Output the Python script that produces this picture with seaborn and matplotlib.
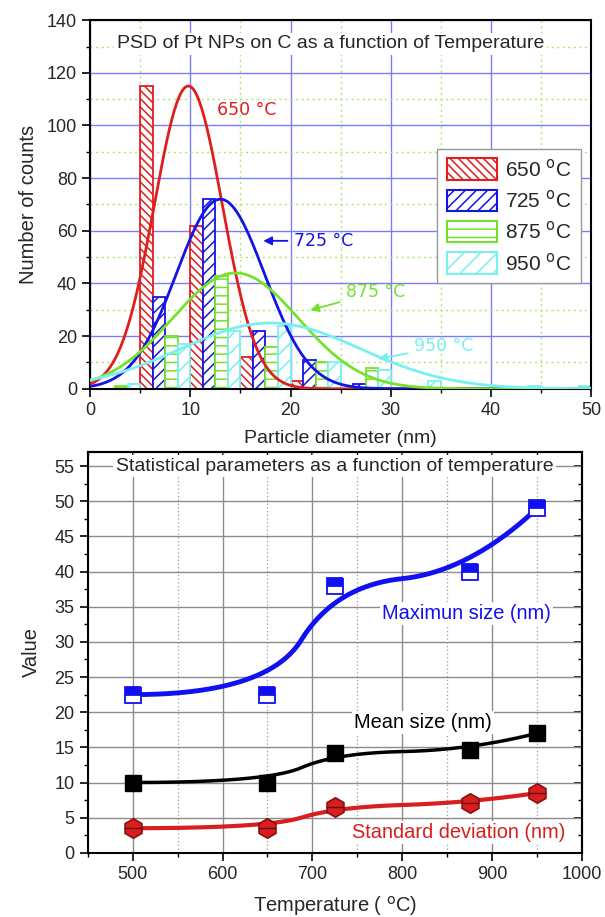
import numpy as np
import pandas as pd
import matplotlib
matplotlib.use('Agg')
import matplotlib.pyplot as plt
import seaborn as sns
from matplotlib.patches import Patch
from matplotlib.ticker import MultipleLocator

# ---- PSD histogram data (bins of 5 nm, one bar per temperature) ----
bin_centers = [2.5, 7.5, 12.5, 17.5, 22.5, 27.5, 32.5, 37.5, 42.5, 47.5]
temps = ['650', '725', '875', '950']
counts_650 = [0, 115, 62, 12, 3, 0, 0, 0, 0, 0]
counts_725 = [0, 35, 72, 22, 11, 2, 0, 0, 0, 0]
counts_875 = [1, 20, 43, 16, 10, 8, 0, 0, 0, 0]
counts_950 = [2, 17, 22, 24, 10, 7, 3, 0, 1, 1]

# gaussian fit parameters
fit_center = [9.8, 13.0, 14.5, 18.0]
fit_height = [115, 72, 44, 25]
fit_sigma = [3.4, 4.4, 6.3, 9.0]

# ---- statistics vs temperature ----
temperature = [500, 650, 725, 875, 950]
max_size = [22.5, 22.5, 38.0, 40.0, 49.0]
mean_size = [10.0, 10.0, 14.2, 14.6, 17.0]
std_dev = [3.5, 3.5, 6.5, 7.1, 8.5]

colors = {'650': '#e01e1e', '725': '#1414e6', '875': '#74e22c', '950': '#78f0f0'}
hatches = {'650': '\\\\\\\\', '725': '///', '875': '--', '950': '//'}

sns.set_theme(style='white')
plt.rcParams['font.family'] = ['Liberation Sans', 'DejaVu Sans']
plt.rcParams['hatch.linewidth'] = 1.1

fig = plt.figure(figsize=(6.05, 9.17), dpi=100)
ax = fig.add_axes([0.149, 0.576, 0.828, 0.402])
ax2 = fig.add_axes([0.145, 0.070, 0.817, 0.437])

# ================= top: histogram =================
rows = []
for t, c in zip(temps, [counts_650, counts_725, counts_875, counts_950]):
    for b, v in zip(bin_centers, c):
        if v > 0:
            rows.append({'bin': b, 'count': v, 'T': t})
df = pd.DataFrame(rows)

ax.set_axisbelow(True)
ax.xaxis.set_major_locator(MultipleLocator(10))
ax.xaxis.set_minor_locator(MultipleLocator(5))
ax.yaxis.set_major_locator(MultipleLocator(20))
ax.yaxis.set_minor_locator(MultipleLocator(10))
ax.grid(which='major', color='#7b7bff', lw=1.0, ls='-')
ax.grid(which='minor', color='#a8e870', lw=1.0, ls=(0, (1.5, 2.5)))

sns.barplot(data=df, x='bin', y='count', hue='T', hue_order=temps,
            native_scale=True, width=1.0, gap=0, errorbar=None,
            palette=colors, ax=ax, legend=False)

for t, cont in zip(temps, ax.containers):
    for p in cont.patches:
        p.set_facecolor('white')
        p.set_hatch(hatches[t])
        p.set_edgecolor(colors[t])
        p.set_linewidth(1.3)
        p.set_zorder(2)

xs = np.linspace(0, 50, 400)
for t, mu, h, s in zip(temps, fit_center, fit_height, fit_sigma):
    fit = h * np.exp(-(xs - mu) ** 2 / (2 * s ** 2))
    sns.lineplot(x=xs, y=fit, color=colors[t], lw=2.0, ax=ax, zorder=3)

ax.set_xlim(0, 50)
ax.set_ylim(0, 140)
ax.set_xlabel('Particle diameter (nm)', fontsize=14, labelpad=8)
ax.set_ylabel('Number of counts', fontsize=14.5, labelpad=6)
ax.tick_params(which='both', direction='out', left=True, bottom=True,
               labelsize=13, color='black')
ax.tick_params(which='major', length=6, width=1.2)
ax.tick_params(which='minor', length=3, width=1.0)
for sp in ax.spines.values():
    sp.set_color('black')
    sp.set_linewidth(1.5)

ax.text(24, 131, 'PSD of Pt NPs on C as a function of Temperature',
        ha='center', va='center', fontsize=14,
        bbox=dict(fc='white', ec='none', pad=2), zorder=4)

lab_font = dict(family='DejaVu Sans', fontsize=12.5)
ax.text(12.7, 106, '650 °C', color=colors['650'], va='center', **lab_font)
ax.annotate('725 °C', xy=(17.0, 56.2), xytext=(20.3, 56.2),
            color=colors['725'], va='center', **lab_font,
            arrowprops=dict(arrowstyle='-|>', color=colors['725'], lw=1.3))
ax.annotate('875 °C', xy=(21.7, 29.6), xytext=(25.5, 36.6),
            color=colors['875'], va='center', **lab_font,
            arrowprops=dict(arrowstyle='-|>', color=colors['875'], lw=1.3))
ax.annotate('950 °C', xy=(28.5, 11.1), xytext=(32.3, 16.2),
            color=colors['950'], va='center', **lab_font,
            arrowprops=dict(arrowstyle='-|>', color=colors['950'], lw=1.3))

handles = [Patch(facecolor='white', edgecolor=colors[t], hatch=hatches[t], lw=1.5,
                 label='%s $^{\\rm o}$C' % t) for t in temps]
leg = ax.legend(handles=handles, loc='upper left', bbox_to_anchor=(0.672, 0.68),
                fontsize=15, frameon=True, fancybox=False, framealpha=1,
                edgecolor='#999999', handlelength=2.4, handleheight=1.2,
                labelspacing=0.45, borderpad=0.45, handletextpad=0.4)
leg.get_frame().set_linewidth(1.0)

# ================= bottom: statistics =================
def bspline2(x, y, n=80):
    # clamped quadratic B-spline using the data points as control points
    P = np.column_stack([x, y]).astype(float)
    mids = (P[1:-2] + P[2:-1]) / 2
    starts = [P[0]] + list(mids)
    ends = list(mids) + [P[-1]]
    t = np.linspace(0, 1, n)[:, None]
    seg = [(1 - t) ** 2 * a + 2 * (1 - t) * t * b + t ** 2 * c
           for a, b, c in zip(starts, P[1:-1], ends)]
    return np.vstack(seg)

ax2.set_axisbelow(True)
ax2.xaxis.set_major_locator(MultipleLocator(100))
ax2.xaxis.set_minor_locator(MultipleLocator(50))
ax2.yaxis.set_major_locator(MultipleLocator(5))
ax2.yaxis.set_minor_locator(MultipleLocator(2.5))
ax2.grid(which='major', color='#8c8c8c', lw=1.0)
ax2.grid(which='minor', axis='x', color='#9a9a9a', lw=0.9, ls=(0, (1, 2)))

blue, black, red = '#1010f0', 'black', '#d81e1e'
for vals, col, lw in [(max_size, blue, 3.5), (mean_size, black, 2.5), (std_dev, red, 3.0)]:
    c = bspline2(temperature, vals)
    sns.lineplot(x=c[:, 0], y=c[:, 1], color=col, lw=lw, ax=ax2, sort=False,
                 estimator=None, zorder=3)

ax2.plot(temperature, max_size, ls='none', marker='s', ms=11, fillstyle='top',
         color=blue, markerfacecoloralt='white', mec=blue, mew=1.3, zorder=4)
ax2.plot(temperature, mean_size, ls='none', marker='s', ms=12, color='black',
         mec='black', zorder=4)
ax2.plot(temperature, std_dev, ls='none', marker='h', ms=14, color=red,
         mec='#8a1010', mew=1.2, zorder=4)
ax2.plot(temperature, std_dev, ls='none', marker='_', ms=13, color='#6a0a0a',
         mew=1.0, zorder=5)

ax2.set_xlim(450, 1000)
ax2.set_ylim(0, 57)
ax2.set_yticks(np.arange(0, 56, 5))
ax2.set_xlabel('Temperature ( $^{\\rm o}$C)', fontsize=14.5, labelpad=8)
ax2.set_ylabel('Value', fontsize=14.5, labelpad=10)
ax2.tick_params(which='both', direction='out', left=True, bottom=True,
                labelsize=13, color='black')
ax2.tick_params(which='major', length=6, width=1.2)
ax2.tick_params(which='minor', length=3, width=1.0)
for sp in ax2.spines.values():
    sp.set_color('black')
    sp.set_linewidth(1.5)

top = ax2.secondary_xaxis('top')
top.xaxis.set_major_locator(MultipleLocator(100))
top.xaxis.set_minor_locator(MultipleLocator(50))
top.tick_params(which='both', direction='in', labeltop=False, color='black')
top.tick_params(which='major', length=6, width=1.2)
top.tick_params(which='minor', length=3, width=1.0)
right = ax2.secondary_yaxis('right')
right.yaxis.set_major_locator(MultipleLocator(5))
right.yaxis.set_minor_locator(MultipleLocator(2.5))
right.tick_params(which='both', direction='in', labelright=False, color='black')
right.tick_params(which='major', length=6, width=1.2)
right.tick_params(which='minor', length=3, width=1.0)
for sec in (top, right):
    for sp in sec.spines.values():
        sp.set_linewidth(1.5)

ax2.text(725, 55, 'Statistical parameters as a function of temperature',
         ha='center', va='center', fontsize=14,
         bbox=dict(fc='white', ec='none', pad=2), zorder=6)
ax2.text(871, 34, 'Maximun size (nm)', ha='center', va='center', color=blue,
         fontsize=14.4, bbox=dict(fc='white', ec='none', pad=1.5), zorder=6)
ax2.text(823, 18.6, 'Mean size (nm)', ha='center', va='center', color='black',
         fontsize=14.4, bbox=dict(fc='white', ec='none', pad=1.5), zorder=6)
ax2.text(863, 2.9, 'Standard deviation (nm)', ha='center', va='center', color=red,
         fontsize=14.4, bbox=dict(fc='white', ec='none', pad=1.5), zorder=6)

fig.savefig('out.png', dpi=100)
